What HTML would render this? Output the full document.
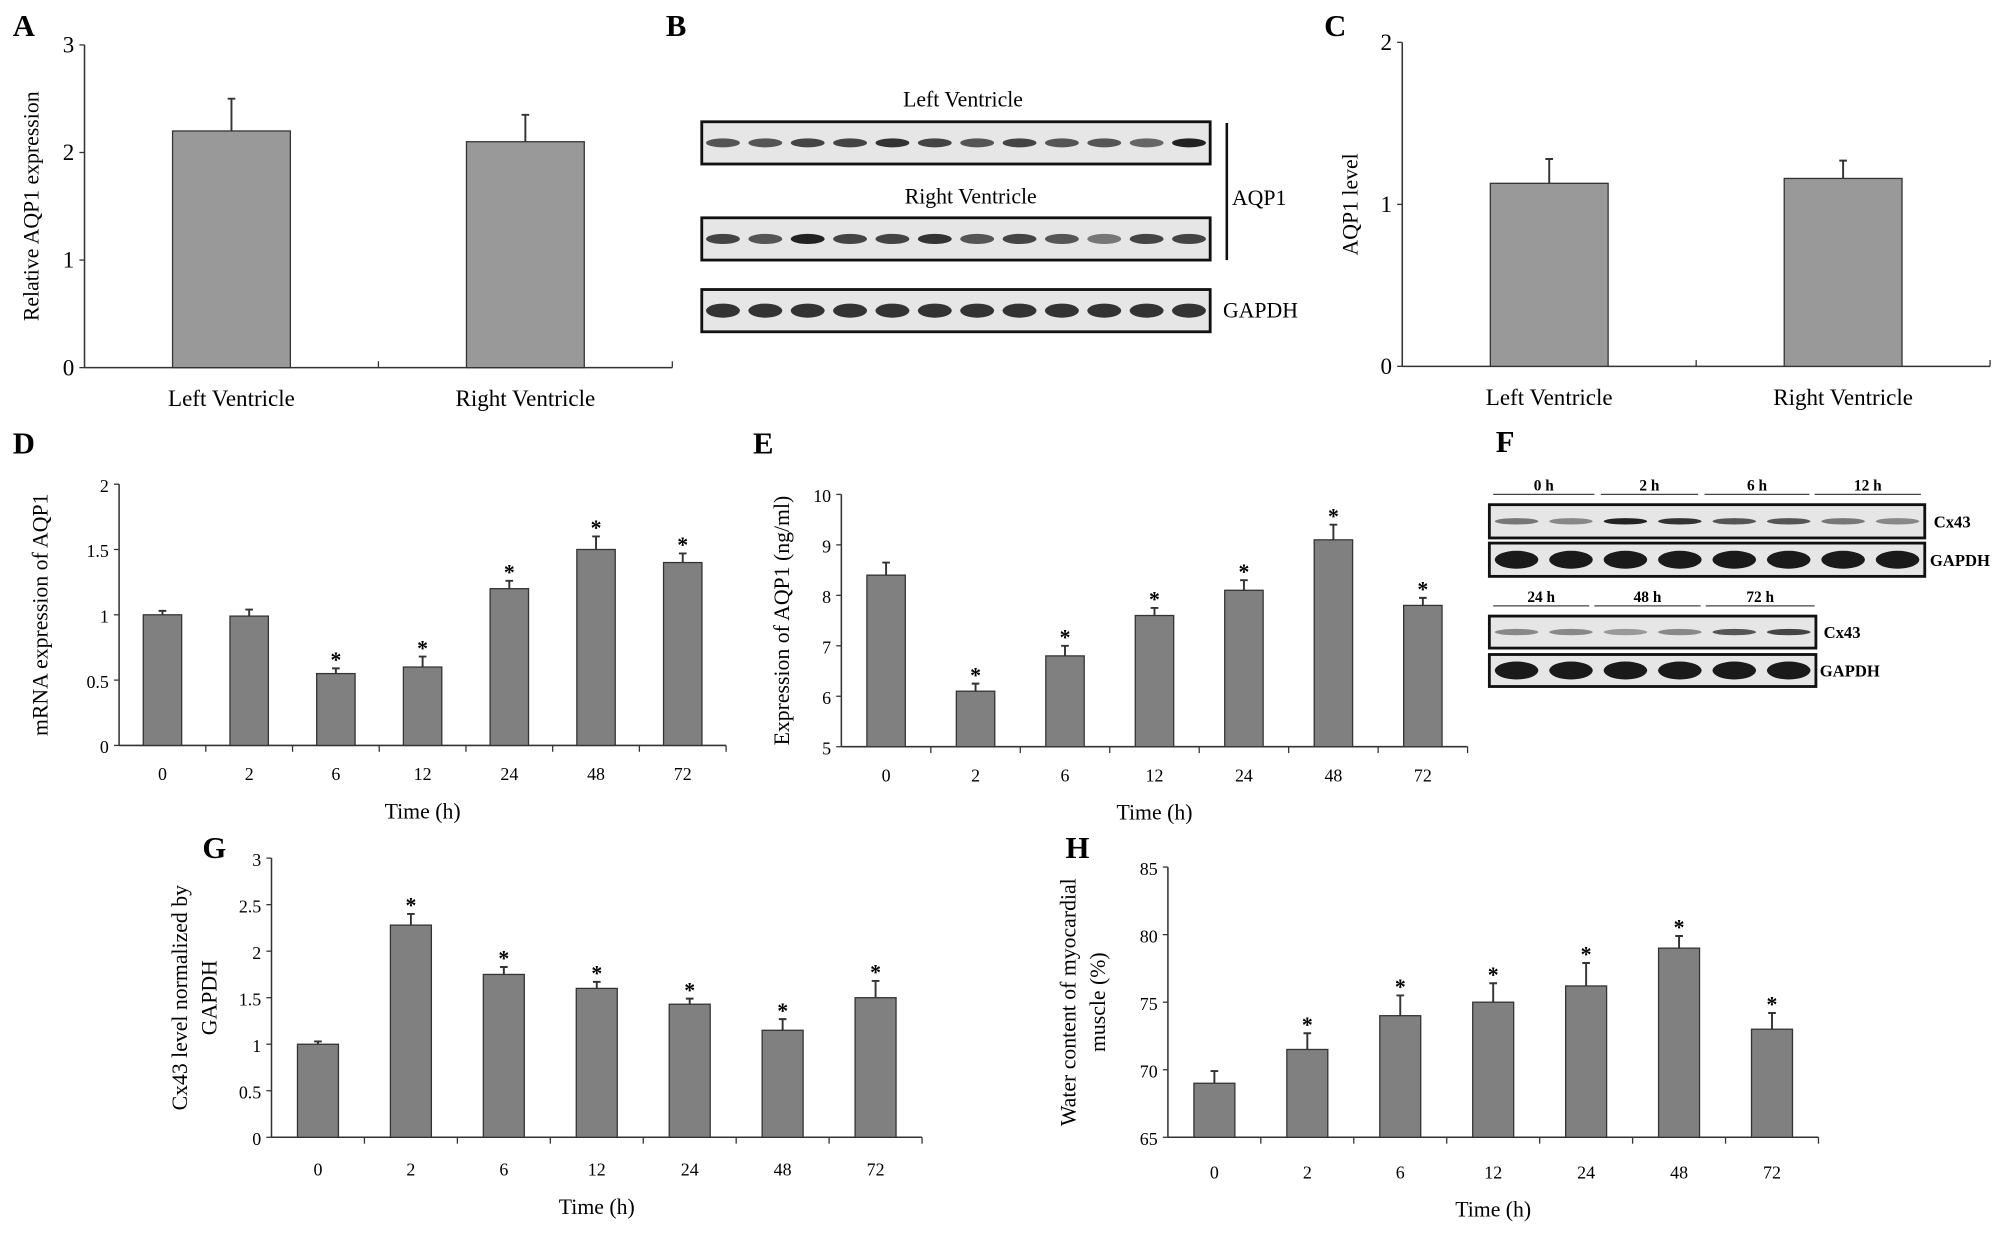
<!DOCTYPE html>
<html><head><meta charset="utf-8"><style>
html,body{margin:0;padding:0;background:#fff;}
svg{display:block;font-family:"Liberation Serif",serif;}
</style></head><body>
<svg id="fig" width="2008" height="1236" viewBox="0 0 1568 965" xmlns="http://www.w3.org/2000/svg">
<rect width="1568" height="965" fill="#fff"/>
<g id="blots"></g>
</svg>
<script>
// ---- Data ----
const catsAC = ["Left Ventricle", "Right Ventricle"];
const valsA = [2.2, 2.1];
const errA = [0.3, 0.25];
const ticksA = [0, 1, 2, 3];
const valsC = [1.13, 1.16];
const errC = [0.15, 0.11];
const ticksC = [0, 1, 2];
const timeCats = ["0", "2", "6", "12", "24", "48", "72"];
const valsD = [1.0, 0.99, 0.55, 0.6, 1.2, 1.5, 1.4];
const errD = [0.03, 0.05, 0.04, 0.08, 0.06, 0.1, 0.07];
const starD = [false, false, true, true, true, true, true];
const ticksD = [0, 0.5, 1, 1.5, 2];
const valsE = [8.4, 6.1, 6.8, 7.6, 8.1, 9.1, 7.8];
const errE = [0.25, 0.15, 0.2, 0.15, 0.2, 0.3, 0.15];
const starE = [false, true, true, true, true, true, true];
const ticksE = [5, 6, 7, 8, 9, 10];
const valsG = [1.0, 2.28, 1.75, 1.6, 1.43, 1.15, 1.5];
const errG = [0.03, 0.12, 0.08, 0.07, 0.06, 0.12, 0.18];
const starG = [false, true, true, true, true, true, true];
const ticksG = [0, 0.5, 1, 1.5, 2, 2.5, 3];
const valsH = [69, 71.5, 74, 75, 76.2, 79, 73];
const errH = [0.9, 1.2, 1.5, 1.4, 1.7, 0.9, 1.2];
const starH = [false, true, true, true, true, true, true];
const ticksH = [65, 70, 75, 80, 85];

const NS = "http://www.w3.org/2000/svg";
const svg = document.getElementById("fig");
function mk(tag, attrs, parent, text) {
  const e = document.createElementNS(NS, tag);
  for (const k in attrs) e.setAttribute(k, attrs[k]);
  if (text !== undefined) e.textContent = text;
  (parent || svg).appendChild(e);
  return e;
}

function chart(o) {
  const g = mk("g", {});
  
  
  const y = v => o.y0 - (v - o.min) / (o.max - o.min) * (o.y0 - o.yTop);
  const n = o.cats.length;
  const step = (o.xEnd - o.x0) / n;
  const cx = i => o.x0 + step * (i + 0.5);
  const ya = mk("line", {x1: o.x0, y1: o.yTop, x2: o.x0, y2: o.y0, stroke: "#333", "stroke-width": 1.2}, g);
  
  
  const xa = mk("line", {x1: o.x0, y1: o.y0, x2: o.xEnd, y2: o.y0, stroke: "#333", "stroke-width": 1.2}, g);
  
  
  o.ticks.forEach(t => {
    mk("line", {x1: o.x0 - 4, y1: y(t), x2: o.x0, y2: y(t), stroke: "#333"}, g);
    const tl = mk("text", {x: o.x0 - 8, y: y(t) + 6, "text-anchor": "end", "font-size": o.fs}, g, String(t));
    
    
  });
  for (let i = 1; i <= n; i++) {
    mk("line", {x1: o.x0 + step * i, y1: o.y0, x2: o.x0 + step * i, y2: o.y0 + (o.upTicks ? -5 : 5), stroke: "#333"}, g);
  }
  o.cats.forEach((c, i) => {
    const v = o.vals[i];
    const b = mk("rect", {x: cx(i) - o.bw / 2, y: y(v), width: o.bw, height: o.y0 - y(v), fill: o.fill, stroke: "#333", "stroke-width": 1}, g);
    
    
    const ey = y(v + o.err[i]);
    const eb = mk("path", {d: `M${cx(i)},${y(v)}V${ey}M${cx(i)-3},${ey}H${cx(i)+3}`, stroke: "#333", "stroke-width": 1.5, fill: "none"}, g);
    
    
    if (o.stars && o.stars[i]) {
      const s = mk("text", {x: cx(i), y: ey - 1, "text-anchor": "middle", "font-size": 17, "font-weight": "bold"}, g, "*");
      
      
    }
    const cl = mk("text", {x: cx(i), y: o.y0 + o.labOff, "text-anchor": "middle", "font-size": o.cfs}, g, c);
    
    
  });
  if (o.xTitle) {
    const xt = mk("text", {x: o.x0 + (o.xEnd - o.x0) / 2, y: o.y0 + o.labOff + 30, "text-anchor": "middle", "font-size": 17}, g, o.xTitle);
    
    
  }
  const ymid = (o.yTop + o.y0) / 2;
  o.yTitle.forEach((t, k) => {
    const tx = o.ytx + k * 23;
    const yt = mk("text", {x: tx, y: ymid, "text-anchor": "middle", "font-size": 17, transform: `rotate(-90 ${tx} ${ymid})`}, g, t);
    
    
  });
  const pl = mk("text", {x: o.lx, y: o.ly, "font-size": 24, "font-weight": "bold"}, g, o.letter);
  
  
}

chart({name: "chart-a", letter: "A", lx: 10, ly: 28, cats: catsAC, vals: valsA, err: errA, ticks: ticksA, min: 0, max: 3, upTicks: true,
  x0: 66, xEnd: 525, yTop: 35, y0: 287, bw: 92, fill: "#999", fs: 18, cfs: 18, labOff: 30, yTitle: ["Relative AQP1 expression"], ytx: 30});
chart({name: "chart-c", letter: "C", lx: 1034, ly: 28, cats: catsAC, vals: valsC, err: errC, ticks: ticksC, min: 0, max: 2, upTicks: true,
  x0: 1095, xEnd: 1554, yTop: 33, y0: 286, bw: 92, fill: "#999", fs: 18, cfs: 18, labOff: 30, yTitle: ["AQP1 level"], ytx: 1060});
chart({name: "chart-d", letter: "D", lx: 10, ly: 354, cats: timeCats, vals: valsD, err: errD, stars: starD, ticks: ticksD, min: 0, max: 2,
  x0: 93, xEnd: 567, yTop: 378, y0: 582, bw: 30, fill: "#808080", fs: 14, cfs: 14, labOff: 27, xTitle: "Time (h)", yTitle: ["mRNA expression of AQP1"], ytx: 37});
chart({name: "chart-e", letter: "E", lx: 588, ly: 354, cats: timeCats, vals: valsE, err: errE, stars: starE, ticks: ticksE, min: 5, max: 10,
  x0: 657, xEnd: 1146, yTop: 386, y0: 583, bw: 30, fill: "#808080", fs: 14, cfs: 14, labOff: 27, xTitle: "Time (h)", yTitle: ["Expression of AQP1 (ng/ml)"], ytx: 616});
chart({name: "chart-g", letter: "G", lx: 158, ly: 670, cats: timeCats, vals: valsG, err: errG, stars: starG, ticks: ticksG, min: 0, max: 3,
  x0: 212, xEnd: 720, yTop: 670, y0: 888, bw: 32, fill: "#808080", fs: 14, cfs: 14, labOff: 30, xTitle: "Time (h)", yTitle: ["Cx43 level normalized by", "GAPDH"], ytx: 146});
chart({name: "chart-h", letter: "H", lx: 832, ly: 670, cats: timeCats, vals: valsH, err: errH, stars: starH, ticks: ticksH, min: 65, max: 85,
  x0: 912, xEnd: 1420, yTop: 677, y0: 888, bw: 32, fill: "#808080", fs: 14, cfs: 14, labOff: 32, xTitle: "Time (h)", yTitle: ["Water content of myocardial", "muscle (%)"], ytx: 840});

// ---- Blots ----
const bl = document.getElementById("blots");
function blot(name, x, y, w, h, nb, dark, bh) {
  const g = mk("g", {}, bl);
  
  
  mk("rect", {x: x, y: y, width: w, height: h, fill: "#e6e6e6", stroke: "#111", "stroke-width": 2.2}, g);
  const s = w / nb;
  for (let i = 0; i < nb; i++) {
    mk("ellipse", {cx: x + s * (i + 0.5), cy: y + h / 2, rx: s * 0.4, ry: bh, fill: dark[i % dark.length]}, g);
  }
}
function txt(name, x, y, s, fs, anchor, bold) {
  const t = mk("text", {x: x, y: y, "font-size": fs, "text-anchor": anchor || "start", "font-weight": bold ? "bold" : "normal"}, bl, s);
  
  
}
txt("panel-label-b", 520, 28, "B", 24, "start", true);
txt("left-ventricle-label", 752, 83, "Left Ventricle", 17, "middle");
blot("blot-left-ventricle-aqp1", 548, 95, 397, 33, 12, ["#555","#555","#444","#444","#333","#444","#555","#444","#555","#555","#666","#222"], 3.5);
txt("right-ventricle-label", 758, 159, "Right Ventricle", 17, "middle");
blot("blot-right-ventricle-aqp1", 548, 170, 397, 33, 12, ["#444","#555","#222","#444","#444","#333","#555","#444","#555","#777","#444","#444"], 4);
blot("blot-gapdh-b", 548, 226, 397, 33, 12, ["#333"], 5.5);
mk("line", {x1: 958, y1: 96, x2: 958, y2: 203, stroke: "#111", "stroke-width": 2}, bl);
txt("aqp1-label", 962, 160, "AQP1", 17);
txt("gapdh-label-b", 955, 248, "GAPDH", 17);

txt("panel-label-f", 1168, 353, "F", 24, "start", true);
const fTop = [["0 h",1166,1245],["2 h",1250,1326],["6 h",1331,1413],["12 h",1417,1500]];
const fBot = [["24 h",1166,1241],["48 h",1245,1328],["72 h",1332,1417]];
fTop.forEach(a => { txt("time-label", (a[1]+a[2])/2, 383, a[0], 12, "middle", true); mk("line",{x1:a[1],y1:386,x2:a[2],y2:386,stroke:"#444"},bl); });
fBot.forEach(a => { txt("time-label", (a[1]+a[2])/2, 470, a[0], 12, "middle", true); mk("line",{x1:a[1],y1:473,x2:a[2],y2:473,stroke:"#444"},bl); });
blot("blot-cx43-top", 1163, 394, 340, 26, 8, ["#777","#888","#222","#333","#555","#555","#777","#888"], 2.5);
blot("blot-gapdh-top", 1163, 424, 340, 26, 8, ["#1a1a1a"], 7);
blot("blot-cx43-bottom", 1163, 481, 255, 25, 6, ["#888","#888","#999","#888","#555","#444"], 2.5);
blot("blot-gapdh-bottom", 1163, 511, 255, 25, 6, ["#1a1a1a"], 7);
txt("cx43-label-top", 1510, 412, "Cx43", 13, "start", true);
txt("gapdh-label-top", 1507, 442, "GAPDH", 13, "start", true);
txt("cx43-label-bottom", 1424, 498, "Cx43", 13, "start", true);
txt("gapdh-label-bottom", 1421, 528, "GAPDH", 13, "start", true);
</script>
</body></html>
